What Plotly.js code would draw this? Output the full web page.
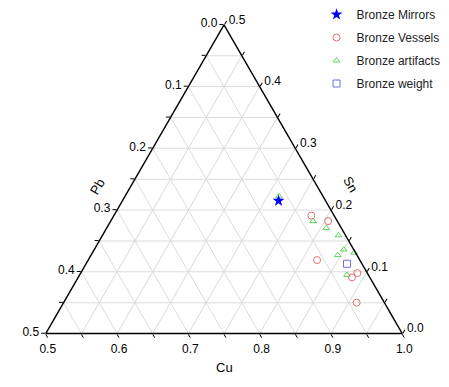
<!DOCTYPE html>
<html><head><meta charset="utf-8">
<script src="https://cdn.plot.ly/plotly-3.0.1.min.js"></script>
<style>html,body{margin:0;padding:0;background:#fff}#chart{width:449px;height:387px}</style>
</head><body><div id="chart"></div>
<script>
// Composition data (fractions): Cu + Pb + Sn = 1
const mirrorsCu = [0.719];
const mirrorsPb = [0.066];
const mirrorsSn = [0.215];

const vesselsCu = [0.777, 0.805, 0.821, 0.888, 0.884, 0.911];
const vesselsPb = [0.032, 0.013, 0.060, 0.014, 0.025, 0.039];
const vesselsSn = [0.191, 0.182, 0.119, 0.098, 0.091, 0.050];

const artifactsCu = [0.716, 0.784, 0.808, 0.831, 0.850, 0.867, 0.846, 0.875];
const artifactsPb = [0.062, 0.034, 0.021, 0.010, 0.014, 0.002, 0.027, 0.030];
const artifactsSn = [0.222, 0.182, 0.171, 0.159, 0.136, 0.131, 0.127, 0.095];

const weightCu = [0.866];
const weightPb = [0.021];
const weightSn = [0.113];

const seriesNames = ['Bronze Mirrors', 'Bronze Vessels', 'Bronze artifacts', 'Bronze weight'];

// tick positions (0.05 steps) for each ternary axis and the labels shown on each edge
const snTickVals = [0, 0.05, 0.1, 0.15, 0.2, 0.25, 0.3, 0.35, 0.4, 0.45, 0.5];
const pbEdgeLabels = ['0.5', '', '0.4', '', '0.3', '', '0.2', '', '0.1', '', '0.0'];
const pbTickVals = [0, 0.05, 0.1, 0.15, 0.2, 0.25, 0.3, 0.35, 0.4, 0.45, 0.5];
const cuEdgeLabels = ['1.0', '', '0.9', '', '0.8', '', '0.7', '', '0.6', '', '0.5'];
const cuTickVals = [0.5, 0.55, 0.6, 0.65, 0.7, 0.75, 0.8, 0.85, 0.9, 0.95, 1.0];
const snEdgeLabels = ['0.5', '', '0.4', '', '0.3', '', '0.2', '', '0.1', '', '0.0'];

const FONT = 'Liberation Sans, Arial, sans-serif';

function mk(name, a, b, c, marker, group, rank) {
  return {type: 'scatterternary', mode: 'markers', name: name, a: a, b: b, c: c,
          marker: marker, legendgroup: group, legendrank: rank, cliponaxis: false};
}

const data = [
  mk(seriesNames[2], artifactsSn, artifactsPb, artifactsCu,
     {symbol: 'triangle-up-open', size: 6, color: '#5fd35f', line: {width: 1}}, 'g3', 3),
  mk(seriesNames[1], vesselsSn, vesselsPb, vesselsCu,
     {symbol: 'circle-open', size: 7, color: '#e07070', line: {width: 1}}, 'g2', 2),
  mk(seriesNames[3], weightSn, weightPb, weightCu,
     {symbol: 'square-open', size: 7, color: '#6f6fe0', line: {width: 1}}, 'g4', 4),
  mk(seriesNames[0], mirrorsSn, mirrorsPb, mirrorsCu,
     {symbol: 'star', size: 9, color: '#0000ff', line: {width: 0}}, 'g1', 1)
];

function ax(vals, text) {
  return {
    tickmode: 'array', tickvals: vals, ticktext: text,
    ticks: 'outside', ticklen: 4, tickwidth: 1, tickcolor: '#000',
    linecolor: '#000', linewidth: 1.4, showline: true,
    showgrid: true, gridcolor: '#dcdcdc', gridwidth: 1,
    tickfont: {family: FONT, size: 12, color: '#000'},
    title: {text: ''}
  };
}

const aax = ax(snTickVals, pbEdgeLabels); aax.min = 0;
const bax = ax(pbTickVals, cuEdgeLabels); bax.min = 0;
const cax = ax(cuTickVals, snEdgeLabels); cax.min = 0.5;

const layout = {
  width: 449, height: 387,
  margin: {l: 0, r: 0, t: 0, b: 0},
  paper_bgcolor: '#fff',
  font: {family: FONT, size: 12, color: '#000'},
  showlegend: true,
  legend: {x: 0.705, y: 1.011, xanchor: 'left', yanchor: 'top', bgcolor: 'rgba(0,0,0,0)',
           traceorder: 'grouped', tracegroupgap: 4,
           font: {family: FONT, size: 12, color: '#222'}},
  ternary: {
    sum: 1,
    domain: {x: [44 / 449, 404 / 449], y: [54 / 387, 366 / 387]},
    bgcolor: '#fff',
    aaxis: aax, baxis: bax, caxis: cax
  },
  annotations: [
    {text: 'Pb', xref: 'paper', yref: 'paper', x: 84 / 449, y: 1 - 184 / 387, showarrow: false,
     textangle: -60, font: {family: FONT, size: 13, color: '#000'}},
    {text: 'Sn', xref: 'paper', yref: 'paper', x: 364 / 449, y: 1 - 182 / 387, showarrow: false,
     textangle: 60, font: {family: FONT, size: 13, color: '#000'}},
    {text: 'Cu', xref: 'paper', yref: 'paper', x: 224 / 449, y: 1 - 377 / 387, showarrow: false,
     font: {family: FONT, size: 13, color: '#000'}}
  ]
};

Plotly.newPlot('chart', data, layout, {displayModeBar: false, staticPlot: true});
</script>
</body></html>
